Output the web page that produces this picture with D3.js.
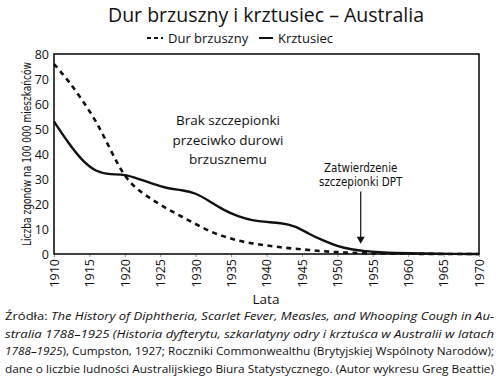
<!DOCTYPE html>
<html><head><meta charset="utf-8">
<script src="https://cdn.jsdelivr.net/npm/d3@7"></script>
<style>body{margin:0;background:#fff}svg{display:block}</style>
</head><body>
<svg id="c" width="500" height="382"></svg>
<script>
const typhoidYears = [1910,1912,1914,1916,1918,1920,1922,1924,1926,1928,1930,1932,1934,1936,1938,1940,1942,1944,1946,1948,1950,1952,1955,1960,1965,1970];
const typhoidValues = [76,69.5,61.5,53,41.5,30.5,25.2,21.5,18,15,12,9,7,5.3,4.2,3.4,2.7,2.1,1.6,1.1,0.7,0.5,0.2,0.1,0,0];
const pertussisYears = [1910,1912,1914,1916,1918,1920,1922,1924,1926,1928,1930,1932,1934,1936,1938,1940,1942,1944,1946,1948,1950,1952,1954,1956,1958,1962,1966,1970];
const pertussisValues = [53,44.5,37.2,32.7,31.8,31.9,30,28,26.2,25.6,24.5,21,17.5,15,13.4,12.8,12.4,11.3,8,5.4,3.1,1.8,1.1,0.7,0.4,0.15,0.05,0];
const xTicks = [1910,1915,1920,1925,1930,1935,1940,1945,1950,1955,1960,1965,1970];
const yTicks = [0,10,20,30,40,50,60,70,80];
const title = "Dur brzuszny i krztusiec – Australia";
const legendLabels = ["Dur brzuszny","Krztusiec"];
const yLabel = "Liczba zgonów na 100 000 mieszkańców";
const xLabel = "Lata";
const noteLines = ["Brak szczepionki","przeciwko durowi","brzusznemu"];
const dptLines = ["Zatwierdzenie","szczepionki DPT"];
const dptYear = 1953.3, dptFrom = 25, dptTo = 4.5;

const svg = d3.select("#c");
const F = "'Open Sans', 'Noto Sans', sans-serif";
const FC = "'DejaVu Sans Condensed', 'Liberation Sans Narrow', sans-serif";
const x = d3.scaleLinear().domain([1910,1970]).range([54,479]);
const y = d3.scaleLinear().domain([0,80]).range([254,54]);

// title
svg.append("text").attr("x",266).attr("y",22).attr("text-anchor","middle")
  .attr("font-family",F).attr("font-size",19.5).attr("fill","#111").text(title);

// legend
const lg = svg.append("g").attr("font-family",F).attr("font-size",13).attr("fill","#111");
lg.append("line").attr("x1",147).attr("x2",163).attr("y1",38).attr("y2",38)
  .attr("stroke","#111").attr("stroke-width",2).attr("stroke-dasharray","4,3");
lg.append("text").attr("x",168).attr("y",42.5).text(legendLabels[0]);
lg.append("line").attr("x1",259).attr("x2",273).attr("y1",38).attr("y2",38)
  .attr("stroke","#111").attr("stroke-width",2);
lg.append("text").attr("x",278).attr("y",42.5).text(legendLabels[1]);

// axes
const xa = svg.append("g").attr("transform","translate(0,254)")
  .call(d3.axisBottom(x).tickValues(xTicks).tickFormat(d3.format("d")).tickSize(3).tickPadding(3));
xa.select(".domain").remove();
xa.selectAll(".tick line").attr("stroke","#999");
xa.selectAll(".tick text").attr("font-family",F).attr("font-size",12.5).attr("fill","#111")
  .attr("transform","rotate(-90)").attr("text-anchor","end").attr("dy","0.35em")
  .attr("x",-5).attr("y",0);

const ya = svg.append("g").attr("transform","translate(54,0)")
  .call(d3.axisLeft(y).tickValues(yTicks).tickSize(0).tickPadding(5));
ya.select(".domain").remove();
ya.selectAll(".tick text").attr("font-family",F).attr("font-size",12.5).attr("fill","#111");

// frame
svg.append("rect").attr("x",54).attr("y",54).attr("width",425).attr("height",200)
  .attr("fill","none").attr("stroke","#111").attr("stroke-width",1.6);

// lines
const line = d3.line().curve(d3.curveBasis);
svg.append("path").attr("d", line(typhoidYears.map((d,i)=>[x(d),y(typhoidValues[i])])))
  .attr("fill","none").attr("stroke","#111").attr("stroke-width",2.6).attr("stroke-dasharray","5,4.5");
svg.append("path").attr("d", line(pertussisYears.map((d,i)=>[x(d),y(pertussisValues[i])])))
  .attr("fill","none").attr("stroke","#111").attr("stroke-width",2.4);

// y label
svg.append("text").attr("transform","translate(31,154) rotate(-90)").attr("text-anchor","middle")
  .attr("font-family",FC)
  .attr("font-size",12.5).attr("textLength",184).attr("lengthAdjust","spacingAndGlyphs")
  .attr("fill","#111").text(yLabel);

// x label
svg.append("text").attr("x",266).attr("y",304).attr("text-anchor","middle")
  .attr("font-family",F).attr("font-size",13.5).attr("fill","#111").text(xLabel);

// note
const nt = svg.append("text").attr("font-family",F).attr("font-size",13.5).attr("fill","#111").attr("text-anchor","middle");
noteLines.forEach((t,i)=>nt.append("tspan").attr("x",228).attr("y",125+i*19.5).text(t));

// DPT annotation
const dt = svg.append("text").attr("font-family",FC)
  .attr("font-size",11.5).attr("fill","#111").attr("text-anchor","middle");
dptLines.forEach((t,i)=>dt.append("tspan").attr("x",x(dptYear)).attr("y",172+i*13.5).text(t));
svg.append("line").attr("x1",x(dptYear)).attr("x2",x(dptYear)).attr("y1",y(dptFrom)).attr("y2",y(dptTo)-4)
  .attr("stroke","#111").attr("stroke-width",1.2);
svg.append("path").attr("d",`M${x(dptYear)-4},${y(dptTo)-6}L${x(dptYear)+4},${y(dptTo)-6}L${x(dptYear)},${y(dptTo)+1}Z`).attr("fill","#111");

// source
const src = [
  [{t:"Źródła: ",i:false},{t:"The History of Diphtheria, Scarlet Fever, Measles, and Whooping Cough in Au-",i:true}],
  [{t:"stralia 1788–1925 (Historia dyfterytu, szkarlatyny odry i krztuśca w Australii w latach",i:true}],
  [{t:"1788–1925",i:true},{t:"), Cumpston, 1927; Roczniki Commonwealthu (Brytyjskiej Wspólnoty Narodów);",i:false}],
  [{t:"dane o liczbie ludności Australijskiego Biura Statystycznego. (Autor wykresu Greg Beattie)",i:false}]
];
src.forEach((ln,i)=>{
  const t = svg.append("text").attr("x",5).attr("y",320+i*17.6).attr("font-family",F)
    .attr("font-size",11.6).attr("fill","#111").attr("textLength",489).attr("lengthAdjust","spacingAndGlyphs");
  ln.forEach(s=>t.append("tspan").attr("font-style",s.i?"italic":"normal").text(s.t));
});
</script>
</body></html>
